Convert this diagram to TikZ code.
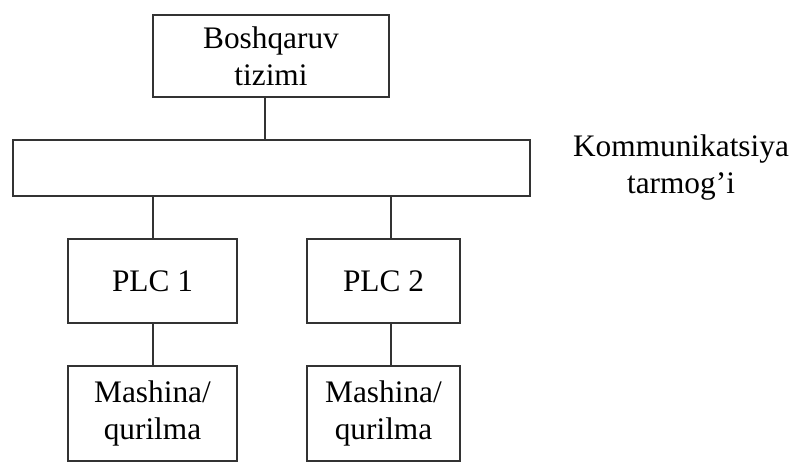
\documentclass[tikz,border=0pt]{standalone}
\usepackage{fontspec}
\setmainfont{Liberation Serif}
\begin{document}
\begin{tikzpicture}[x=0.75pt,y=-0.75pt,
  box/.style={draw=black!80, line width=1.3pt, inner sep=0pt, align=center,
              font=\fontsize{23.5}{27.75}\selectfont},
  lbl/.style={inner sep=0pt, align=center, font=\fontsize{23.5}{27.75}\selectfont},
  wire/.style={draw=black!80, line width=1.3pt}]
\useasboundingbox (0,0) rectangle (793,464);
\node[box, minimum width=177pt, minimum height=61.5pt] (top) at (271,56) {Boshqaruv\\tizimi};
\node[box, minimum width=387.75pt, minimum height=42pt] (bus) at (271.5,168) {};
\node[lbl] (buslbl) at (681,168) {Kommunikatsiya\\tarmog’i};
\node[box, minimum width=126.75pt, minimum height=63pt] (plc1) at (152.5,281) {PLC 1};
\node[box, minimum width=114.75pt, minimum height=63pt] (plc2) at (383.5,281) {PLC 2};
\node[box, minimum width=126.75pt, minimum height=71.25pt] (m1) at (152.5,413.5) {Mashina/\\qurilma};
\node[box, minimum width=114.75pt, minimum height=71.25pt] (m2) at (383.5,413.5) {Mashina/\\qurilma};
\draw[wire] ([xshift=-4.5pt]top.south) -- ([xshift=-4.5pt]top.south |- bus.north);
\draw[wire] ([xshift=0.4pt]plc1.north |- bus.south) -- ([xshift=0.4pt]plc1.north);
\draw[wire] ([xshift=5.6pt]plc2.north |- bus.south) -- ([xshift=5.6pt]plc2.north);
\draw[wire] ([xshift=0.4pt]plc1.south) -- ([xshift=0.4pt]m1.north);
\draw[wire] ([xshift=5.6pt]plc2.south) -- ([xshift=5.6pt]m2.north);
\end{tikzpicture}
\end{document}
